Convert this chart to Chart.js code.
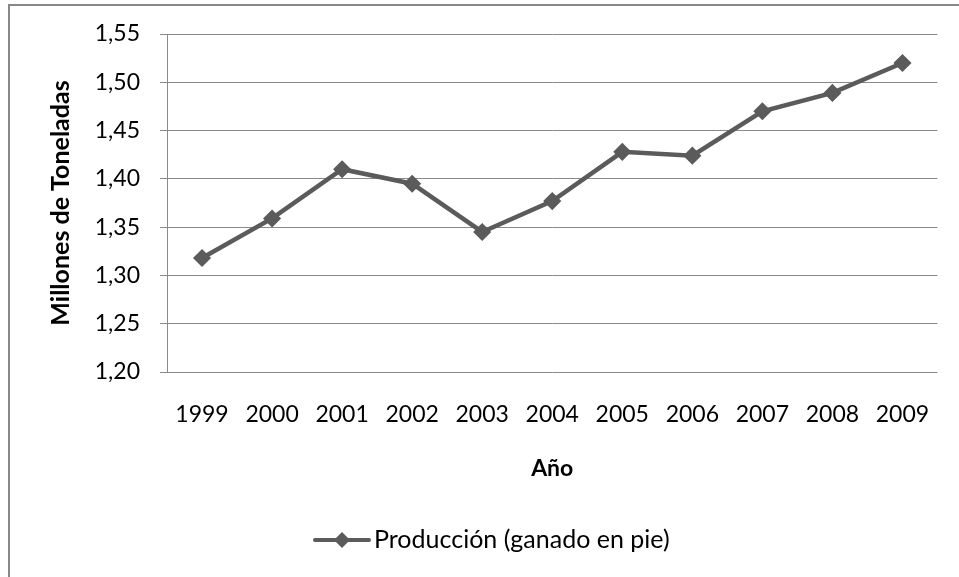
<!DOCTYPE html>
<html>
<head>
<meta charset="utf-8">
<script src="https://cdn.jsdelivr.net/npm/chart.js@4"></script>
<style>
  html, body { margin: 0; padding: 0; background: #fff; }
  #wrap { width: 959px; height: 577px; }
</style>
</head>
<body>
<div id="wrap"><canvas id="prodChart" width="959" height="577"></canvas></div>
<script>
// data
const years = ['1999', '2000', '2001', '2002', '2003', '2004', '2005', '2006', '2007', '2008', '2009'];
const produccion = [1.318, 1.359, 1.410, 1.395, 1.345, 1.377, 1.428, 1.424, 1.470, 1.489, 1.520];
const yMin = 1.20;
const yMax = 1.55;
const yStep = 0.05;

const seriesLabel = 'Producción (ganado en pie)';
const lineColor = '#5b5b5b';
const gridColor = '#8a8a8a';
const FONT = 'Lato, "Open Sans", sans-serif';

// frame: only the left and top edges of the chart box are inside the picture
const framePlugin = {
    id: 'frame',
    beforeDraw(chart) {
        const ctx = chart.ctx;
        ctx.save();
        ctx.fillStyle = '#fff';
        ctx.fillRect(0, 0, chart.width, chart.height);
        ctx.strokeStyle = '#888';
        ctx.lineWidth = 2;
        ctx.beginPath();
        ctx.moveTo(9, chart.height + 5);
        ctx.lineTo(9, 5);
        ctx.lineTo(chart.width + 5, 5);
        ctx.stroke();
        ctx.restore();
    }
};

// legend with line + diamond sample, like the office style
const lineLegend = {
    id: 'lineLegend',
    afterDraw(chart) {
        const ctx = chart.ctx;
        const ds = chart.data.datasets[0];
        const x0 = 315, x1 = 369, y = 540;
        ctx.save();
        ctx.strokeStyle = ds.borderColor;
        ctx.lineWidth = 4;
        ctx.lineCap = 'round';
        ctx.beginPath();
        ctx.moveTo(x0, y);
        ctx.lineTo(x1, y);
        ctx.stroke();
        const cx = 342, r = 8;
        ctx.fillStyle = ds.borderColor;
        ctx.beginPath();
        ctx.moveTo(cx - r, y);
        ctx.lineTo(cx, y - r);
        ctx.lineTo(cx + r, y);
        ctx.lineTo(cx, y + r);
        ctx.closePath();
        ctx.fill();
        ctx.fillStyle = '#000';
        ctx.font = '25px ' + FONT;
        ctx.textBaseline = 'middle';
        ctx.textAlign = 'left';
        ctx.fillText(ds.label, 374, y);
        ctx.restore();
    }
};

function renderChart() {
    const ctx = document.getElementById('prodChart').getContext('2d');
    new Chart(ctx, {
        type: 'line',
        data: {
            labels: years,
            datasets: [{
                label: seriesLabel,
                data: produccion,
                borderColor: lineColor,
                backgroundColor: lineColor,
                borderWidth: 4.5,
                pointStyle: 'rectRot',
                pointRadius: 8,
                pointBorderWidth: 1.5,
                pointBackgroundColor: lineColor,
                pointBorderColor: lineColor,
                tension: 0,
                fill: false
            }]
        },
        options: {
            responsive: false,
            animation: false,
            layout: { padding: { left: 0, top: 34, right: 19, bottom: 95 } },
            plugins: {
                legend: { display: false },
                tooltip: { enabled: false }
            },
            scales: {
                x: {
                    offset: true,
                    grid: { display: false, drawTicks: false },
                    border: { display: false },
                    ticks: { color: '#000', font: { family: FONT, size: 23 }, padding: 29, maxRotation: 0 },
                    title: { display: true, text: 'Año', color: '#000', padding: 0,
                             font: { family: FONT, size: 23, weight: 'bold' } },
                    afterFit: s => { s.height = 110; }
                },
                y: {
                    min: yMin,
                    max: yMax,
                    grid: { color: gridColor, lineWidth: 1, tickLength: 7 },
                    border: { color: gridColor, width: 1 },
                    ticks: {
                        stepSize: yStep,
                        color: '#000',
                        padding: 20,
                        font: { family: FONT, size: 23 },
                        callback: v => v.toFixed(2).replace('.', ',')
                    },
                    title: { display: true, text: 'Millones de Toneladas', color: '#000',
                             padding: { top: 46, bottom: 0 },
                             font: { family: FONT, size: 25, weight: 'bold' } },
                    afterFit: s => { s.width = 167; }
                }
            }
        },
        plugins: [framePlugin, lineLegend]
    });
}

window.addEventListener('DOMContentLoaded', renderChart);
</script>
</body>
</html>
